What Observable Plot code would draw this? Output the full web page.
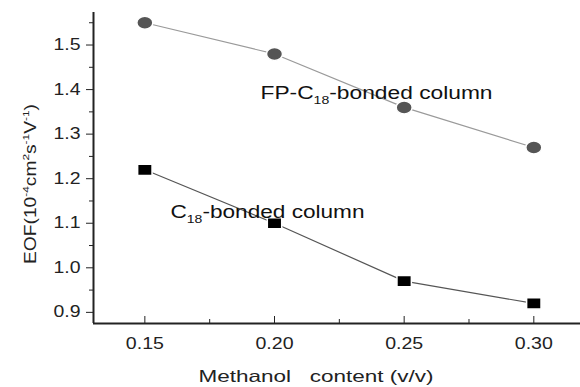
<!DOCTYPE html>
<html>
<head>
<meta charset="utf-8">
<script src="https://cdn.jsdelivr.net/npm/d3@7"></script>
<script src="https://cdn.jsdelivr.net/npm/@observablehq/plot@0.6"></script>
<style>
  html, body { margin: 0; padding: 0; background: #fff; }
  #chart svg { display: block; font-family: "Liberation Sans", Arial, sans-serif; }
</style>
</head>
<body>
<div id="chart"></div>
<script>
// ---- data ----
const methanol = [0.15, 0.20, 0.25, 0.30];
const eofFP = [1.55, 1.48, 1.36, 1.27];      // FP-C18-bonded column (circles)
const eofC18 = [1.22, 1.10, 0.97, 0.92];     // C18-bonded column (squares)
const xTicks = [0.15, 0.20, 0.25, 0.30];
const xMinorTicks = [0.175, 0.225, 0.275];
const yTicks = [0.9, 1.0, 1.1, 1.2, 1.3, 1.4, 1.5];
const yMinorTicks = [0.95, 1.05, 1.15, 1.25, 1.35, 1.45, 1.55];
const xDomain = [0.1302, 0.318];
const yDomain = [0.875, 1.573];
const seriesLabels = [
  {x: 0.1946, y: 1.391, parts: [["FP-C", ""], ["18", "sub"], ["-bonded column", ""]], len: 232},
  {x: 0.1599, y: 1.1248, parts: [["C", ""], ["18", "sub"], ["-bonded column", ""]], len: 194}
];
const yLabelParts = [["EOF(10", ""], ["-4", "sup"], ["cm", ""], ["2", "sup"], ["s", ""], ["-1", "sup"], ["V", ""], ["-1", "sup"], [")", ""]];
const xLabelText = "Methanol   content (v/v)";

const fpData = methanol.map((m, i) => ({x: m, y: eofFP[i]}));
const c18Data = methanol.map((m, i) => ({x: m, y: eofC18[i]}));

// custom symbols (stretched markers as in the reference)
const ellipseSym = {
  draw(ctx) {
    const rx = 8, ry = 6.5, k = 0.5523;
    ctx.moveTo(rx, 0);
    ctx.bezierCurveTo(rx, ry * k, rx * k, ry, 0, ry);
    ctx.bezierCurveTo(-rx * k, ry, -rx, ry * k, -rx, 0);
    ctx.bezierCurveTo(-rx, -ry * k, -rx * k, -ry, 0, -ry);
    ctx.bezierCurveTo(rx * k, -ry, rx, -ry * k, rx, 0);
    ctx.closePath();
  }
};
const rectSym = {
  draw(ctx) {
    const w = 7.2, h = 5.6;
    ctx.moveTo(-w, -h); ctx.lineTo(w, -h); ctx.lineTo(w, h); ctx.lineTo(-w, h); ctx.closePath();
  }
};

const fmt = d3.format(".2f");
const fmtY = d3.format(".1f");

const chart = Plot.plot({
  width: 580,
  height: 387,
  marginLeft: 93,
  marginRight: 0,
  marginTop: 12,
  marginBottom: 64,
  style: {fontFamily: "Liberation Sans, Arial, sans-serif", fontSize: "16px", color: "#222", background: "#fff"},
  x: {domain: xDomain},
  y: {domain: yDomain},
  marks: [
    Plot.axisY({ticks: yMinorTicks, tickSize: 4, tickFormat: () => "", label: null, stroke: "#222"}),
    Plot.axisY({ticks: yTicks, tickSize: 7, tickPadding: 6, tickFormat: fmtY, label: null, fontSize: 16, stroke: "#222"}),
    Plot.axisX({ticks: xMinorTicks, tickSize: -4, tickFormat: () => "", label: null, stroke: "#222"}),
    Plot.axisX({ticks: xTicks, tickSize: -7, tickPadding: 21, tickFormat: fmt, label: null, fontSize: 16, stroke: "#222"}),
    Plot.ruleX([xDomain[0]], {stroke: "#222", strokeWidth: 2}),
    Plot.ruleY([yDomain[0]], {stroke: "#222", strokeWidth: 2}),
    Plot.line(fpData, {x: "x", y: "y", stroke: "#9a9a9a", strokeWidth: 1.2}),
    Plot.line(c18Data, {x: "x", y: "y", stroke: "#555", strokeWidth: 1.2}),
    Plot.dot(fpData, {x: "x", y: "y", symbol: ellipseSym, fill: "#555", stroke: "#fff", strokeWidth: 1.5}),
    Plot.dot(c18Data, {x: "x", y: "y", symbol: rectSym, fill: "#000", stroke: "#fff", strokeWidth: 1.5}),
    Plot.text(seriesLabels, {x: "x", y: "y", text: (d) => d.parts.map(p => p[0]).join(""), textAnchor: "start", fontSize: 17.5, fill: "#111"})
  ]
});

document.getElementById("chart").appendChild(chart);
const svg = d3.select(chart);

function fillParts(textSel, parts, baseSize) {
  textSel.text(null);
  let shift = 0;
  parts.forEach(([t, kind]) => {
    const ts = textSel.append("tspan").text(t);
    let target = 0, size = baseSize;
    if (kind === "sub") { target = baseSize * 0.28; size = baseSize * 0.62; }
    if (kind === "sup") { target = -baseSize * 0.42; size = baseSize * 0.62; }
    ts.attr("dy", target - shift).attr("font-size", size);
    shift = target;
  });
}

// series labels with subscripts, baseline at anchor, stretched to reference widths
svg.selectAll('g[aria-label="text"] text').each(function(d, i) {
  const el = d3.select(this);
  el.attr("dy", null);
  const lab = seriesLabels[i];
  fillParts(el, lab.parts, 17.5);
  el.attr("textLength", lab.len).attr("lengthAdjust", "spacingAndGlyphs");
});

// stretch tick labels to match the wide face of the reference
svg.selectAll('g[aria-label="x-axis tick label"] text').each(function() {
  if (this.textContent) d3.select(this).attr("textLength", 38).attr("lengthAdjust", "spacingAndGlyphs");
});
svg.selectAll('g[aria-label="y-axis tick label"] text').each(function() {
  if (this.textContent) d3.select(this).attr("textLength", 27).attr("lengthAdjust", "spacingAndGlyphs");
});

// y-axis title
const yl = svg.append("text")
  .attr("transform", "translate(36,184) rotate(-90)")
  .attr("text-anchor", "middle")
  .attr("font-size", 16)
  .attr("fill", "#222");
fillParts(yl, yLabelParts, 16);
yl.attr("textLength", 160).attr("lengthAdjust", "spacingAndGlyphs");

// x-axis title
svg.append("text")
  .attr("x", 316).attr("y", 382)
  .attr("text-anchor", "middle")
  .attr("font-size", 16.5)
  .attr("fill", "#222")
  .style("white-space", "pre")
  .attr("textLength", 235).attr("lengthAdjust", "spacingAndGlyphs")
  .text(xLabelText);
</script>
</body>
</html>
